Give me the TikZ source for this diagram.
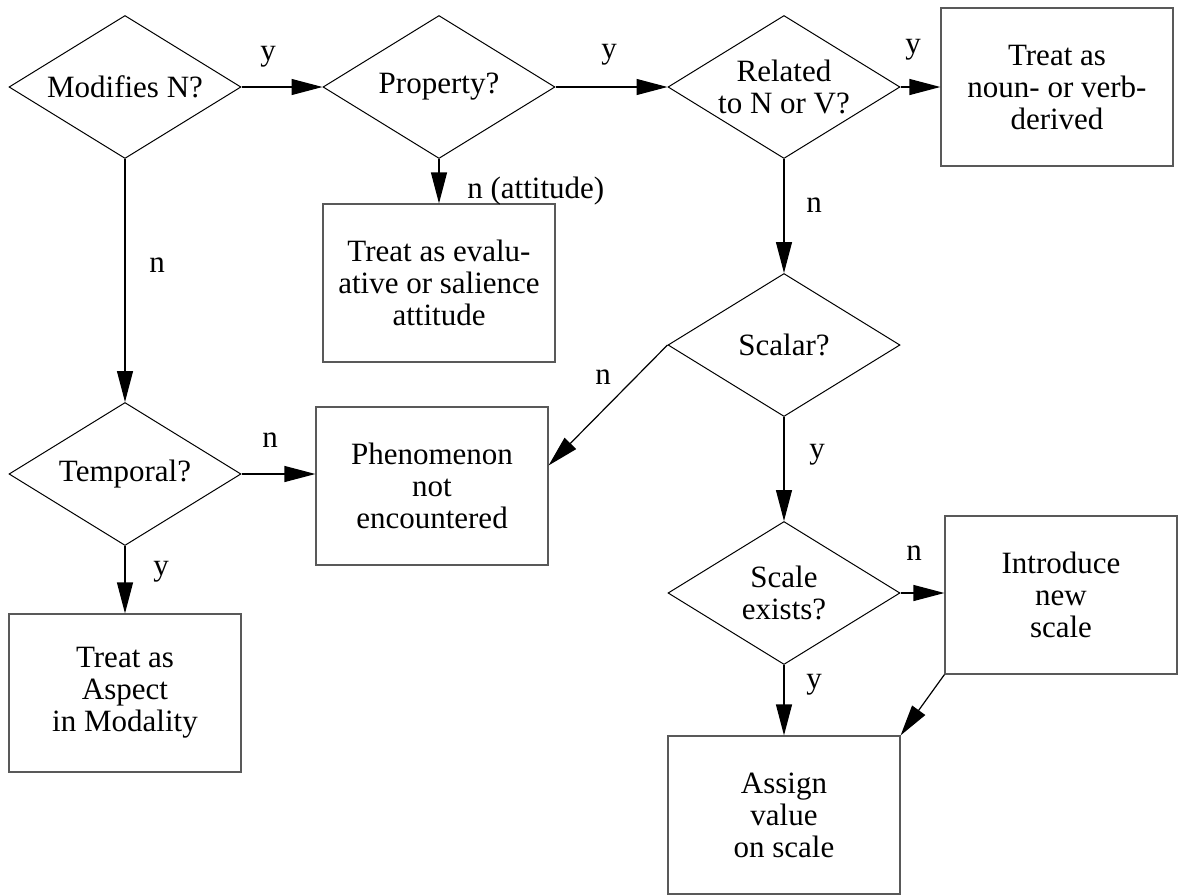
\documentclass[tikz,border=0pt]{standalone}
\usepackage{fontspec}
\setmainfont{Liberation Serif}
\usetikzlibrary{shapes.geometric,arrows.meta}

\tikzset{
    txt/.style={font=\fontsize{15.5}{16}\selectfont},
    test/.style={txt, diamond, draw, line width=0.5pt, inner sep=0pt, shape aspect=1.62,
        minimum width=116pt, minimum height=71.5pt, align=center},
    action/.style={txt, rectangle, draw=black!65, line width=0.6pt,
        minimum width=116pt, minimum height=79pt, align=center},
    arr/.style={line width=0.6pt, -{Triangle[length=15.5pt,width=8pt]}},
    lbl/.style={txt, inner sep=0pt}
}

\begin{document}
\begin{tikzpicture}[x=0.5pt, y=-0.5pt]

    \useasboundingbox (0,0) rectangle (1180,895);

    % decisions
    \node[test] (mod)    at (125,87)  {Modifies N?};
    \node[test] (prop)   at (439,87)  {Property?};
    \node[test] (rel)    at (784,87)  {Related\\to N or V?};
    \node[test] (scalar) at (784,345) {Scalar?};
    \node[test] (temp)   at (125,474) {Temporal?};
    \node[test] (scale)  at (784,593) {Scale\\exists?};

    % outcomes
    \node[action] (nvbox)  at (1057,87)  {Treat as\\noun- or verb-\\derived};
    \node[action] (evbox)  at (439,283)  {Treat as evalu-\\ative or salience\\attitude};
    \node[action] (phen)   at (432,486)  {Phenomenon\\not\\encountered};
    \node[action] (aspect) at (125,693)  {Treat as\\Aspect\\in Modality};
    \node[action] (intro)  at (1061,595) {Introduce\\new\\scale};
    \node[action] (assign) at (784,815)  {Assign\\value\\on scale};

    % connectors
    \draw[arr] (mod.east) -- (prop.west);
    \draw[arr] (prop.east) -- (rel.west);
    \draw[arr] (rel.east) -- (rel.east -| nvbox.west);
    \draw[arr] (prop.south) -- (evbox.north);
    \draw[arr] (mod.south) -- (temp.north);
    \draw[arr] (rel.south) -- (scalar.north);
    \draw[arr] (scalar.west) -- (phen.10);
    \draw[arr] (temp.east) -- (temp.east -| phen.west);
    \draw[arr] (temp.south) -- (aspect.north);
    \draw[arr] (scalar.south) -- (scale.north);
    \draw[arr] (scale.east) -- (scale.east -| intro.west);
    \draw[arr] (scale.south) -- (assign.north);
    \draw[arr] (intro.south west) -- (assign.north east);

    % answers
    \node[lbl] (y1) at (268,57)  {y};
    \node[lbl] (y2) at (609,55)  {y};
    \node[lbl] (y3) at (913,50)  {y};
    \node[lbl, anchor=west] (n1) at (467,191) {n (attitude)};
    \node[lbl] (n2) at (157,265) {n};
    \node[lbl] (n3) at (814,205) {n};
    \node[lbl] (n4) at (603,377) {n};
    \node[lbl] (n5) at (270,440) {n};
    \node[lbl] (y4) at (161,572) {y};
    \node[lbl] (y5) at (817,455) {y};
    \node[lbl] (n6) at (914,553) {n};
    \node[lbl] (y6) at (814,685) {y};

\end{tikzpicture}
\end{document}
